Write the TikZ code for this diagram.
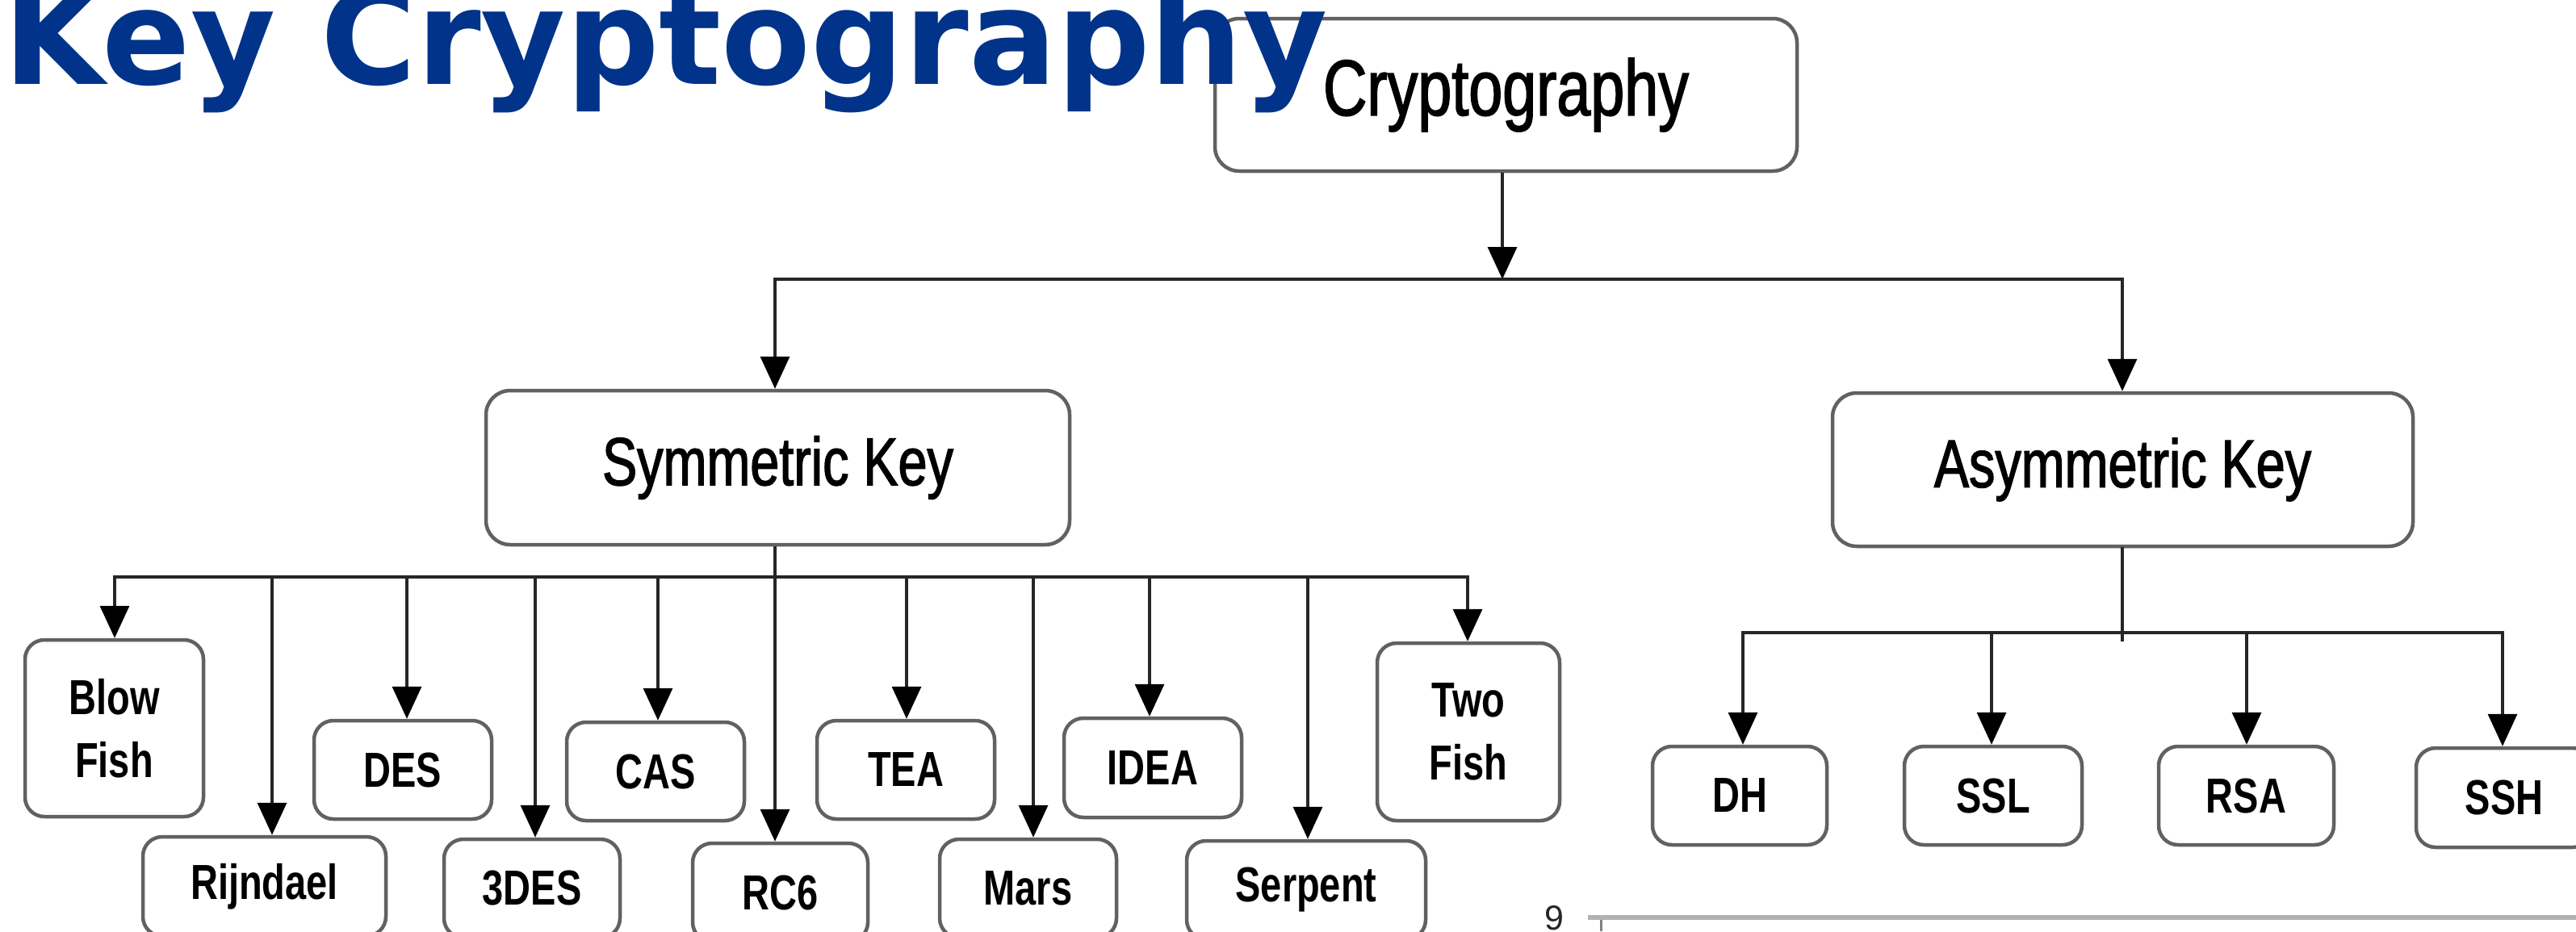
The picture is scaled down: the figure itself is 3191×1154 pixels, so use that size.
\documentclass[tikz,border=0pt]{standalone}
\usepackage{fontspec}
\setmainfont{Liberation Sans}
\newfontfamily\titlefont[FakeStretch=0.985]{DejaVu Sans}
\newfontfamily\narrowfont[FakeStretch=0.77]{Liberation Sans}
\newfontfamily\narrowmedium[FakeStretch=0.77,FakeBold=1.6]{Liberation Sans}
\usetikzlibrary{arrows.meta}
\definecolor{titleblue}{RGB}{0,51,137}

\tikzset{
  box/.style={draw=black!62, line width=4.5pt, rounded corners=24pt, fill=white,
    inner sep=0pt, align=center,
    font=\narrowfont\fontsize{61}{78}\selectfont\bfseries},
  topbox/.style={box, rounded corners=30pt,
    font=\narrowmedium\fontsize{84}{100}\selectfont},
  wire/.style={line width=3.5pt, draw=black!85, line cap=rect},
  arr/.style={line width=3.5pt, draw=black!85,
    -{Triangle[width=36pt,length=40pt,color=black]}},
}

\begin{document}
\begin{tikzpicture}[x=1pt, y=-1pt]
\useasboundingbox (0,0) rectangle (3191,1154);
\clip (0,0) rectangle (3191,1154);

% root and the two families
\node[topbox, minimum width=721pt, minimum height=189pt,
  font=\narrowmedium\fontsize{98}{110}\selectfont] (crypto) at (1865.5,117.5) {Cryptography};
\node[topbox, minimum width=723pt, minimum height=191pt] (sym) at (963.5,579.5) {Symmetric Key};
\node[topbox, minimum width=719pt, minimum height=190pt] (asym) at (2629.5,582) {Asymmetric Key};

% symmetric algorithms
\node[box, minimum width=221pt, minimum height=219pt] (blow) at (141.5,902.5) {Blow\\Fish};
\node[box, minimum width=226pt, minimum height=220pt] (two) at (1819,907) {Two\\Fish};
\node[box, minimum width=220pt, minimum height=122pt] (des) at (499,954) {DES};
\node[box, minimum width=220pt, minimum height=122pt] (cas) at (812,956) {CAS};
\node[box, minimum width=220pt, minimum height=122pt] (tea) at (1122,954) {TEA};
\node[box, minimum width=220pt, minimum height=123pt] (idea) at (1428,951.5) {IDEA};
\node[box, minimum width=301pt, minimum height=123pt] (rijn) at (327.5,1098.5) {Rijndael};
\node[box, minimum width=218pt, minimum height=122pt] (tdes) at (659,1101) {3DES};
\node[box, minimum width=217pt, minimum height=122pt] (rc6) at (966.5,1106) {RC6};
\node[box, minimum width=219pt, minimum height=122pt] (mars) at (1273.5,1101) {Mars};
\node[box, minimum width=296pt, minimum height=122pt] (serp) at (1618,1103) {Serpent};

% asymmetric algorithms
\node[box, minimum width=216pt, minimum height=122pt] (dh) at (2155,986) {DH};
\node[box, minimum width=220pt, minimum height=122pt] (ssl) at (2469,986) {SSL};
\node[box, minimum width=217pt, minimum height=122pt] (rsa) at (2782.5,986) {RSA};
\node[box, minimum width=218pt, minimum height=123pt] (ssh) at (3102,988.5) {SSH};

% bus from the root
\coordinate (cbus) at (1861,346);
\coordinate (t1) at (960,346);
\coordinate (t2) at (2629,346);
\draw[arr] (crypto.south -| cbus) -- (cbus);
\draw[wire] (t1) -- (t2);
\draw[arr] (t1) -- (t1 |- sym.north);
\draw[arr] (t2) -- (t2 |- asym.north);

% symmetric bus
\coordinate (s1) at (142,715);
\coordinate (s2) at (337,715);
\coordinate (s3) at (504,715);
\coordinate (s4) at (663,715);
\coordinate (s5) at (815,715);
\coordinate (s6) at (960,715);
\coordinate (s7) at (1123,715);
\coordinate (s8) at (1280,715);
\coordinate (s9) at (1424,715);
\coordinate (s10) at (1620,715);
\coordinate (s11) at (1818,715);
\draw[wire] (s1) -- (s11);
\draw[arr] (sym.south -| s6) -- (s6 |- rc6.north);
\draw[arr] (s1) -- (s1 |- blow.north);
\draw[arr] (s2) -- (s2 |- rijn.north);
\draw[arr] (s3) -- (s3 |- des.north);
\draw[arr] (s4) -- (s4 |- tdes.north);
\draw[arr] (s5) -- (s5 |- cas.north);
\draw[arr] (s7) -- (s7 |- tea.north);
\draw[arr] (s8) -- (s8 |- mars.north);
\draw[arr] (s9) -- (s9 |- idea.north);
\draw[arr] (s10) -- (s10 |- serp.north);
\draw[arr] (s11) -- (s11 |- two.north);

% asymmetric bus
\coordinate (abus) at (2629,784);
\coordinate (abusend) at (2629,793);
\coordinate (a1) at (2159,784);
\coordinate (a2) at (2467,784);
\coordinate (a3) at (2783,784);
\coordinate (a4) at (3100,784);
\draw[wire] (asym.south -| abus) -- (abusend);
\draw[wire] (a1) -- (a4);
\draw[arr] (a1) -- (a1 |- dh.north);
\draw[arr] (a2) -- (a2 |- ssl.north);
\draw[arr] (a3) -- (a3 |- rsa.north);
\draw[arr] (a4) -- (a4 |- ssh.north);

% chart axis peeking in at the bottom
\coordinate (ax0) at (1967,1137);
\coordinate (ax1) at (3191,1137);
\coordinate (tk0) at (1983,1140);
\coordinate (tk1) at (1983,1154);
\draw[gray!60, line width=6pt] (ax0) -- (ax1);
\draw[black!50, line width=3pt] (tk0) -- (tk1);
\node[anchor=base, inner sep=0pt, text=black!85,
  font=\fontsize{43}{43}\selectfont] (nine) at (1925,1152) {9};

% slide title
\node[anchor=base west, inner sep=0pt, text=titleblue,
  font=\titlefont\bfseries\fontsize{164}{190}\selectfont] (title) at (4,104) {Key Cryptography};
\end{tikzpicture}
\end{document}
